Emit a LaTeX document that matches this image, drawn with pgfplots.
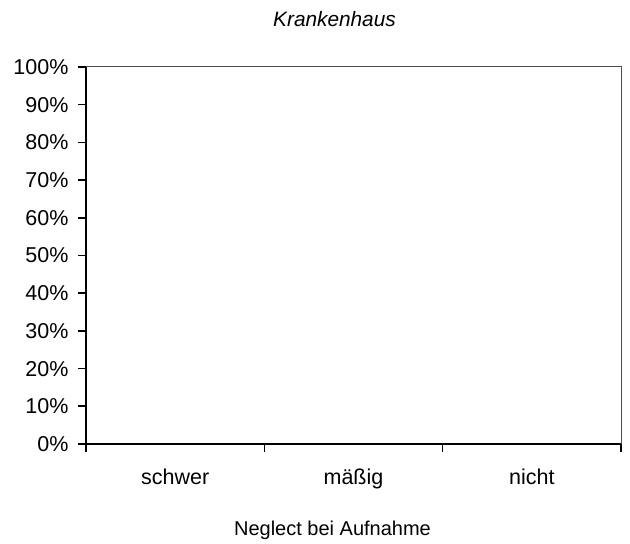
\documentclass[border=0pt]{standalone}
\usepackage{pgfplots}
\pgfplotsset{compat=1.18}
\usepackage{fontspec}
\setmainfont{Liberation Sans}
\newcommand\cf{\fontsize{20}{24}\selectfont}
\newcommand\tf{\fontsize{21.5}{25}\selectfont}
\begin{document}
\begin{tikzpicture}[x=1pt,y=1pt]
\useasboundingbox (0,0) rectangle (630,544);
\begin{axis}[
  at={(86pt,100pt)}, anchor=south west,
  width=535pt, height=377pt, scale only axis,
  xmin=0, xmax=3, ymin=0, ymax=100,
  clip=false,
  axis x line*=bottom, axis y line*=left,
  axis line style={black, line width=1.6pt},
  tick align=outside, major tick length=8pt,
  tick style={black, line width=1.6pt},
  xtick={0,1,2,3}, xticklabels={},
  extra x ticks={0.5,1.5,2.5},
  extra x tick labels={schwer,mäßig,nicht},
  extra x tick style={major tick length=0pt,
    xticklabel style={anchor=base, yshift=-41pt}},
  ytick={0,10,...,100},
  yticklabels={0\%,10\%,20\%,30\%,40\%,50\%,60\%,70\%,80\%,90\%,100\%},
  yticklabel style={anchor=east, xshift=-6pt},
  every tick label/.append style={font=\tf, text=black},
  title={Krankenhaus},
  title style={font=\fontsize{20.8}{24}\selectfont\itshape, at={(rel axis cs:0.5,1)}, anchor=base, yshift=34pt, xshift=-19pt},
  xlabel={Neglect bei Aufnahme},
  xlabel style={font=\cf, at={(rel axis cs:0.5,0)}, anchor=base, yshift=-92pt, xshift=-21pt},
  after end axis/.code={
    \draw[line width=1pt, black!70] (rel axis cs:0,1) -- (rel axis cs:1,1) -- (rel axis cs:1,0);
  },
]
\end{axis}
\end{tikzpicture}
\end{document}
